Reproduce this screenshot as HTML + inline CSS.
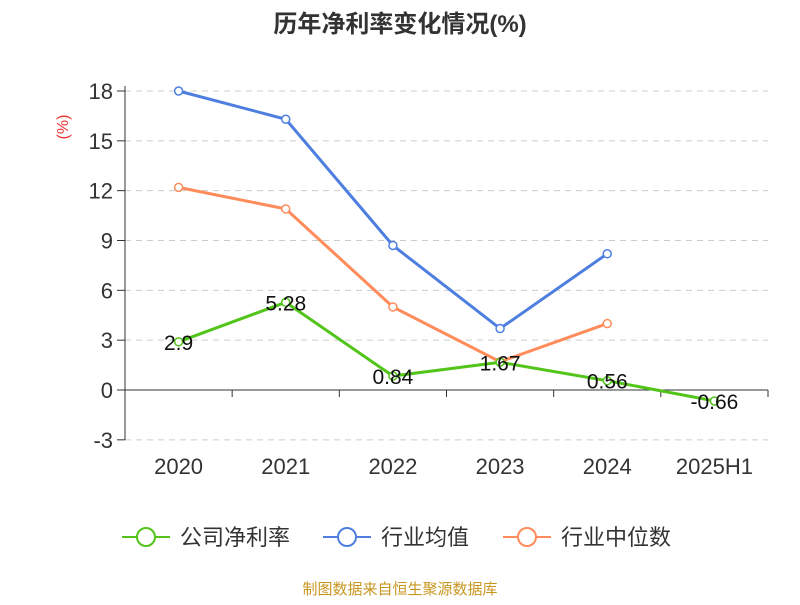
<!DOCTYPE html>
<html><head><meta charset="utf-8"><style>
body{margin:0;background:#fff;font-family:"Liberation Sans","Noto Sans CJK SC",sans-serif}
</style></head><body>
<svg id="c" width="800" height="600" xmlns="http://www.w3.org/2000/svg">
<text x="400" y="32" text-anchor="middle" font-size="24" font-weight="bold" fill="#333" font-family="Liberation Sans,Noto Sans CJK SC,sans-serif">历年净利率变化情况(%)</text>
<text transform="translate(68,127) rotate(-90)" text-anchor="middle" font-size="16" fill="#e33">(%)</text>
<g id="grid"></g><g id="series"></g>
<g font-size="22" fill="#333" font-family="Liberation Sans,Noto Sans CJK SC,sans-serif">
<g><line x1="122" y1="537" x2="170" y2="537" stroke="#52c41a" stroke-width="2"/><circle cx="146" cy="537" r="9" fill="#fff" stroke="#52c41a" stroke-width="2"/><text x="180" y="545">公司净利率</text></g>
<g><line x1="323" y1="537" x2="371" y2="537" stroke="#4e7fe0" stroke-width="2"/><circle cx="347" cy="537" r="9" fill="#fff" stroke="#4e7fe0" stroke-width="2"/><text x="381" y="545">行业均值</text></g>
<g><line x1="503" y1="537" x2="551" y2="537" stroke="#ff8c5a" stroke-width="2"/><circle cx="527" cy="537" r="9" fill="#fff" stroke="#ff8c5a" stroke-width="2"/><text x="561" y="545">行业中位数</text></g>
</g>
<text x="400" y="594" text-anchor="middle" font-size="15" fill="#c8961e">制图数据来自恒生聚源数据库</text>
</svg>
<script>
const categories=["2020","2021","2022","2023","2024","2025H1"];
const company=[2.9,5.28,0.84,1.67,0.56,-0.66];
const industryMean=[18.0,16.3,8.7,3.7,8.2,null];
const industryMedian=[12.2,10.9,5.0,1.7,4.0,null];
const yTicks=[-3,0,3,6,9,12,15,18];
const NS="http://www.w3.org/2000/svg";
const L=125,R=768,T=91,B=390;
const yS=v=>B-(v)*(B-T)/18;
const bw=(R-L)/categories.length;
const xS=i=>L+bw*(i+0.5);
const grid=document.getElementById('grid'),ser=document.getElementById('series');
function mk(tag,attrs,parent){const e=document.createElementNS(NS,tag);for(const k in attrs)e.setAttribute(k,attrs[k]);parent.appendChild(e);return e;}
yTicks.forEach(v=>{const y=yS(v);
 if(v!==0){const g=mk('line',{x1:L,x2:R,y1:y,y2:y,stroke:'#ccc','stroke-dasharray':'6,5'},grid);
 
 }
 const t=mk('line',{x1:L-8,x2:L,y1:y,y2:y,stroke:'#333'},grid);
 
 
 const tx=mk('text',{x:L-12,y:y+8,'text-anchor':'end','font-size':22,fill:'#333'},grid);tx.textContent=v;
 
 
});
const ya=mk('line',{x1:L,x2:L,y1:yS(18)-5,y2:yS(-3),stroke:'#333'},grid);


const xa=mk('line',{x1:L,x2:R,y1:yS(0),y2:yS(0),stroke:'#333'},grid);


for(let i=0;i<=categories.length;i++){const t=mk('line',{x1:L+bw*i,x2:L+bw*i,y1:yS(0),y2:yS(0)+7,stroke:'#333'},grid);
 
 }
categories.forEach((c,i)=>{const t=mk('text',{x:xS(i),y:474,'text-anchor':'middle','font-size':22,fill:'#333'},grid);t.textContent=c;
 
 });
function series(data,color,name,labels){
 const pts=data.map((v,i)=>v==null?null:[xS(i),yS(v)]).filter(p=>p);
 const p=mk('polyline',{points:pts.map(p=>p.join(',')).join(' '),fill:'none',stroke:color,'stroke-width':3},ser);
 
 
 data.forEach((v,i)=>{if(v==null)return;
  const c=mk('circle',{cx:xS(i),cy:yS(v),r:4,fill:'#fff',stroke:color,'stroke-width':1.5},ser);
  
  
  if(labels){const t=mk('text',{x:xS(i),y:yS(v)+8,'text-anchor':'middle','font-size':21,fill:'#111'},ser);t.textContent=v;
   
   }
 });
}
series(industryMean,'#4e7fe0','industry-mean',false);
series(industryMedian,'#ff8c5a','industry-median',false);
series(company,'#52c41a','company',true);
</script>
</body></html>
